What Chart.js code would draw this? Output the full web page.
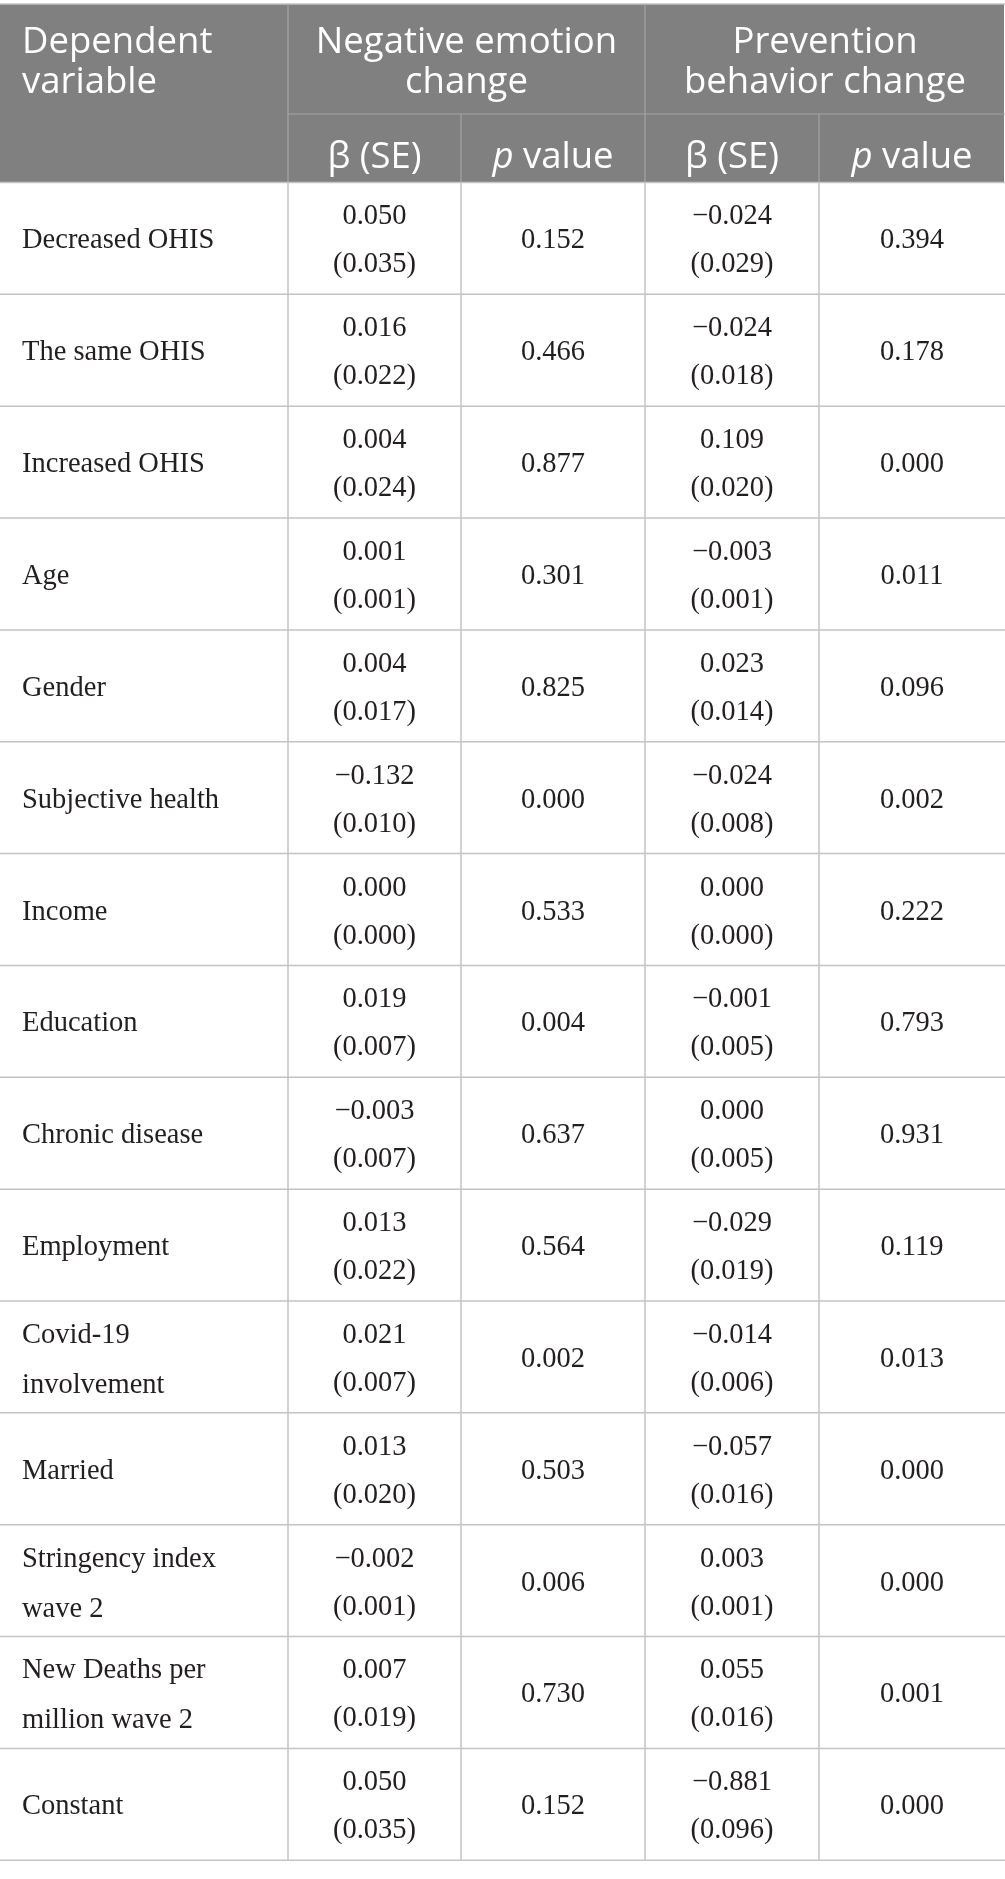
<!DOCTYPE html>
<html>
<head>
<meta charset="utf-8">
<script src="https://cdn.jsdelivr.net/npm/chart.js@4.4.1/dist/chart.umd.min.js"></script>
<style>
    html, body { margin: 0; padding: 0; background: #fff; }
    canvas { display: block; }
</style>
</head>
<body>
<canvas id="tableChart" width="1005" height="1879"></canvas>
<script>
// row labels (line breaks as printed)
const ROW_LABELS = [
    ["Decreased OHIS"],
    ["The same OHIS"],
    ["Increased OHIS"],
    ["Age"],
    ["Gender"],
    ["Subjective health"],
    ["Income"],
    ["Education"],
    ["Chronic disease"],
    ["Employment"],
    ["Covid-19", "involvement"],
    ["Married"],
    ["Stringency index", "wave 2"],
    ["New Deaths per", "million wave 2"],
    ["Constant"],
];

const NEG_BETA = [0.050, 0.016, 0.004, 0.001, 0.004, -0.132, 0.000, 0.019, -0.003, 0.013, 0.021, 0.013, -0.002, 0.007, 0.050];
const NEG_SE   = [0.035, 0.022, 0.024, 0.001, 0.017, 0.010, 0.000, 0.007, 0.007, 0.022, 0.007, 0.020, 0.001, 0.019, 0.035];
const NEG_P    = [0.152, 0.466, 0.877, 0.301, 0.825, 0.000, 0.533, 0.004, 0.637, 0.564, 0.002, 0.503, 0.006, 0.730, 0.152];

const PREV_BETA = [-0.024, -0.024, 0.109, -0.003, 0.023, -0.024, 0.000, -0.001, 0.000, -0.029, -0.014, -0.057, 0.003, 0.055, -0.881];
const PREV_SE   = [0.029, 0.018, 0.020, 0.001, 0.014, 0.008, 0.000, 0.005, 0.005, 0.019, 0.006, 0.016, 0.001, 0.016, 0.096];
const PREV_P    = [0.394, 0.178, 0.000, 0.011, 0.096, 0.002, 0.222, 0.793, 0.931, 0.119, 0.013, 0.000, 0.000, 0.001, 0.000];

const HEAD_LEFT = ["Dependent", "variable"];
const HEAD_GROUPS = [["Negative emotion", "change"], ["Prevention", "behavior change"]];

// layout, in scale units (1 unit = 1 px)
const COL_EDGES = [0, 288, 461, 645, 819, 1005];
const TOP = 4;
const SUB_LINE = 114;
const HEAD_BOTTOM = 182.5;
const ROW_H = 111.85;
const HEAD_FONT = '36.5px "Open Sans"';
const HEAD_FONT_IT = 'italic 36.5px "Open Sans"';

const fmt = v => v.toFixed(3).replace('-', '\u2212');

const tablePlugin = {
    id: 'tablePlugin',
    afterDraw(chart) {
        const ctx = chart.ctx;
        const xs = chart.scales.x;
        const ys = chart.scales.y;
        const X = v => xs.getPixelForValue(v);
        const Y = v => ys.getPixelForValue(v);
        const nRows = ROW_LABELS.length;
        const bottom = HEAD_BOTTOM + nRows * ROW_H;

        ctx.save();

        // header background
        ctx.fillStyle = '#808080';
        ctx.fillRect(X(0), Y(TOP), X(1004) - X(0), Y(HEAD_BOTTOM) - Y(TOP));

        // top border
        ctx.strokeStyle = '#c2c2c2';
        ctx.lineWidth = 1.5;
        ctx.beginPath();
        ctx.moveTo(X(0), Y(TOP)); ctx.lineTo(X(1005), Y(TOP));
        ctx.stroke();

        // header inner lines
        ctx.strokeStyle = '#a3a3a3';
        ctx.lineWidth = 1.2;
        ctx.beginPath();
        ctx.moveTo(X(COL_EDGES[1]), Y(TOP)); ctx.lineTo(X(COL_EDGES[1]), Y(HEAD_BOTTOM));
        ctx.moveTo(X(COL_EDGES[3]), Y(TOP)); ctx.lineTo(X(COL_EDGES[3]), Y(HEAD_BOTTOM));
        ctx.moveTo(X(COL_EDGES[2]), Y(SUB_LINE)); ctx.lineTo(X(COL_EDGES[2]), Y(HEAD_BOTTOM));
        ctx.moveTo(X(COL_EDGES[4]), Y(SUB_LINE)); ctx.lineTo(X(COL_EDGES[4]), Y(HEAD_BOTTOM));
        ctx.moveTo(X(COL_EDGES[1]), Y(SUB_LINE)); ctx.lineTo(X(1005), Y(SUB_LINE));
        ctx.stroke();

        // body grid
        ctx.strokeStyle = '#c4c4c4';
        ctx.lineWidth = 1.5;
        ctx.beginPath();
        for (let r = 0; r <= nRows; r++) {
            const y = Y(HEAD_BOTTOM + r * ROW_H);
            ctx.moveTo(X(0), y); ctx.lineTo(X(1005), y);
        }
        for (let c = 1; c < COL_EDGES.length - 1; c++) {
            ctx.moveTo(X(COL_EDGES[c]), Y(HEAD_BOTTOM)); ctx.lineTo(X(COL_EDGES[c]), Y(bottom));
        }
        ctx.stroke();

        // header text
        ctx.fillStyle = '#ffffff';
        ctx.font = HEAD_FONT;
        ctx.textBaseline = 'alphabetic';
        ctx.textAlign = 'left';
        ctx.fillText(HEAD_LEFT[0], X(22), Y(53));
        ctx.fillText(HEAD_LEFT[1], X(22), Y(93));
        ctx.textAlign = 'center';
        HEAD_GROUPS.forEach((lines, g) => {
            const cx = X((COL_EDGES[1 + g * 2] + COL_EDGES[3 + g * 2]) / 2);
            ctx.fillText(lines[0], cx, Y(53));
            ctx.fillText(lines[1], cx, Y(93));
        });
        // sub headers
        for (let g = 0; g < 2; g++) {
            const c1 = X((COL_EDGES[1 + g * 2] + COL_EDGES[2 + g * 2]) / 2);
            const c2 = X((COL_EDGES[2 + g * 2] + COL_EDGES[3 + g * 2]) / 2);
            ctx.textAlign = 'center';
            ctx.font = HEAD_FONT;
            ctx.fillText('\u03B2 (SE)', c1, Y(168));
            ctx.font = HEAD_FONT_IT;
            const wp = ctx.measureText('p').width;
            ctx.font = HEAD_FONT;
            const wv = ctx.measureText(' value').width;
            const start = c2 - (wp + wv) / 2;
            ctx.textAlign = 'left';
            ctx.font = HEAD_FONT_IT;
            ctx.fillText('p', start, Y(168));
            ctx.font = HEAD_FONT;
            ctx.fillText(' value', start + wp, Y(168));
        }

        // body text
        ctx.fillStyle = '#231f20';
        ctx.font = '28.5px "Liberation Serif"';
        const pairCols = [[NEG_BETA, NEG_SE], null, [PREV_BETA, PREV_SE], null];
        const pCols = [null, NEG_P, null, PREV_P];
        for (let r = 0; r < nRows; r++) {
            const mid = HEAD_BOTTOM + (r + 0.5) * ROW_H;
            const lab = ROW_LABELS[r];
            ctx.textAlign = 'left';
            if (lab.length === 1) {
                ctx.fillText(lab[0], X(22), Y(mid + 10));
            } else {
                ctx.fillText(lab[0], X(22), Y(mid - 14));
                ctx.fillText(lab[1], X(22), Y(mid + 36));
            }
            ctx.textAlign = 'center';
            for (let c = 0; c < 4; c++) {
                const cx = X((COL_EDGES[c + 1] + COL_EDGES[c + 2]) / 2);
                if (pairCols[c]) {
                    ctx.fillText(fmt(pairCols[c][0][r]), cx, Y(mid - 14));
                    ctx.fillText('(' + fmt(pairCols[c][1][r]) + ')', cx, Y(mid + 34));
                } else {
                    ctx.fillText(fmt(pCols[c][r]), cx, Y(mid + 10));
                }
            }
        }
        ctx.restore();
    }
};

new Chart(document.getElementById('tableChart'), {
    type: 'scatter',
    data: { datasets: [{ data: [], pointRadius: 0 }] },
    options: {
        responsive: false,
        animation: false,
        events: [],
        layout: { padding: 0 },
        plugins: { legend: { display: false }, tooltip: { enabled: false } },
        scales: {
            x: { type: 'linear', min: 0, max: 1005, display: false },
            y: { type: 'linear', min: 0, max: 1879, reverse: true, display: false }
        }
    },
    plugins: [tablePlugin]
});
</script>
</body>
</html>
